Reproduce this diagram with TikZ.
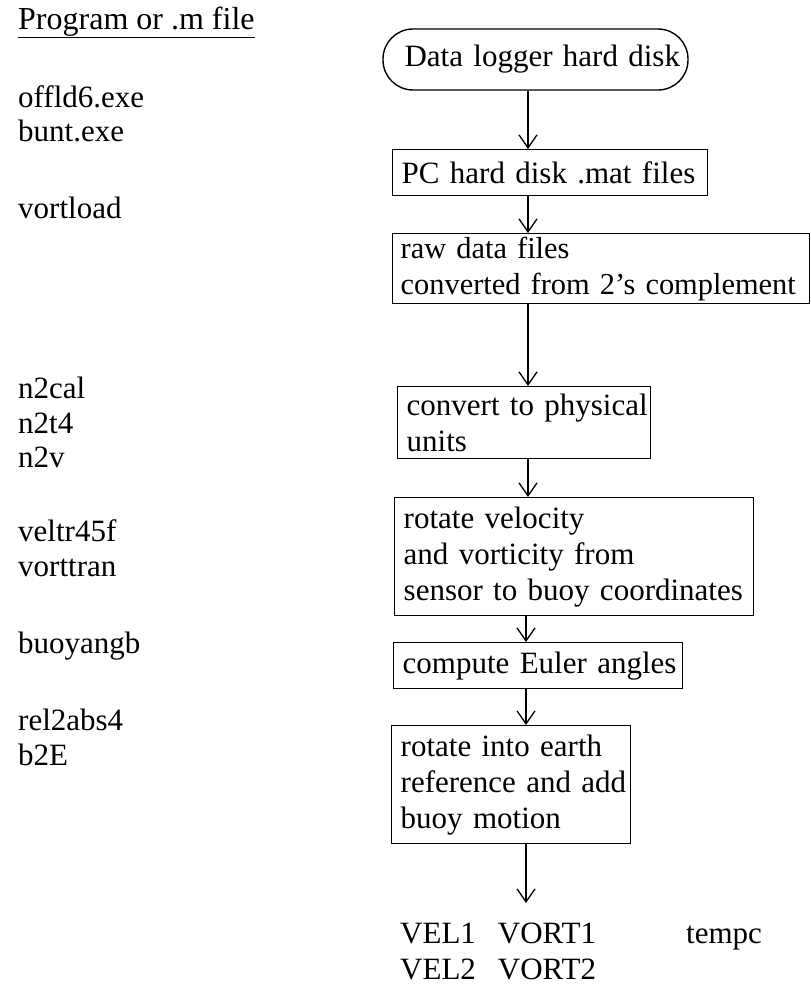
\documentclass[tikz,border=0pt]{standalone}
\usepackage{fontspec}
\setmainfont{Liberation Serif}
\usetikzlibrary{arrows.meta}
\begin{document}
\begin{tikzpicture}[x=1pt,y=-1pt,
  every node/.style={font=\fontsize{31}{36}\selectfont, inner sep=0pt},
  lbl/.style={anchor=base west},
  box/.style={draw, line width=1.4pt, anchor=north west, align=left, inner xsep=9pt, inner ysep=0pt},
  arr/.style={line width=1.3pt, -{Straight Barb[length=13pt,width=18pt,line width=1.3pt]}}]
\useasboundingbox (0,0) rectangle (811,985);
% left column
\node[lbl] (h)  at (18,29)  {\fontsize{32}{36}\selectfont\underline{Program or .m file}};
\node[lbl] (p1) at (18,107) {offld6.exe};
\node[lbl] (p2) at (18,141) {bunt.exe};
\node[lbl] (p3) at (18,218) {vortload};
\node[lbl] (p4) at (18,398) {n2cal};
\node[lbl] (p5) at (18,433) {n2t4};
\node[lbl] (p6) at (18,467) {n2v};
\node[lbl] (p7) at (18,541) {veltr45f};
\node[lbl] (p8) at (18,576) {vorttran};
\node[lbl] (p9) at (18,653) {buoyangb};
\node[lbl] (p10) at (18,730) {rel2abs4};
\node[lbl] (p11) at (18,765) {b2E};
% flow chart
\node[draw, line width=1.4pt, rounded corners=30pt, minimum height=61pt, text width=289pt,
      inner xsep=8pt, align=right] (t) at (535.5,59.5) {\mbox{Data logger hard disk}};
\node[box, text width=297pt, minimum height=46pt] (b2) at (392,149) {\mbox{PC hard disk .mat files}};
\node[box, text width=401pt, minimum height=70pt, inner xsep=8pt, font=\fontsize{30.4}{36}\selectfont] (b3) at (392,233) {\mbox{raw data files}\\\mbox{converted from 2's complement}};
\node[box, text width=235pt, minimum height=72pt] (b4) at (397,386) {\mbox{convert to physical}\\\mbox{units}};
\node[box, text width=341pt, minimum height=118pt] (b5) at (394,497) {\mbox{rotate velocity}\\\mbox{and vorticity from}\\\mbox{sensor to buoy coordinates}};
\node[box, text width=271pt, minimum height=46pt] (b6) at (393,642) {\mbox{compute Euler angles}};
\node[box, text width=221pt, minimum height=118pt] (b7) at (391,725) {\mbox{rotate into earth}\\\mbox{reference and add}\\\mbox{buoy motion}};
\node[anchor=north west] (out) at (400,918) {\begin{tabular}{@{}l@{\hspace{22pt}}l@{}}VEL1 & VORT1\\ VEL2 & VORT2\end{tabular}};
\node[lbl] (tc) at (686,943) {tempc};
% connectors
\coordinate (ax) at (528,0);
\coordinate (bx) at (526,0);
\draw[arr] (t.south -| ax) -- (b2.north -| ax);
\draw[arr] (b2.south -| ax) -- (b3.north -| ax);
\draw[arr] (b3.south -| ax) -- (b4.north -| ax);
\draw[arr] (b4.south -| ax) -- (b5.north -| ax);
\draw[arr] (b5.south -| bx) -- (b6.north -| bx);
\draw[arr] (b6.south -| bx) -- (b7.north -| bx);
\draw[arr, shorten >=15pt] (b7.south -| bx) -- (out.north -| bx);
\end{tikzpicture}
\end{document}
